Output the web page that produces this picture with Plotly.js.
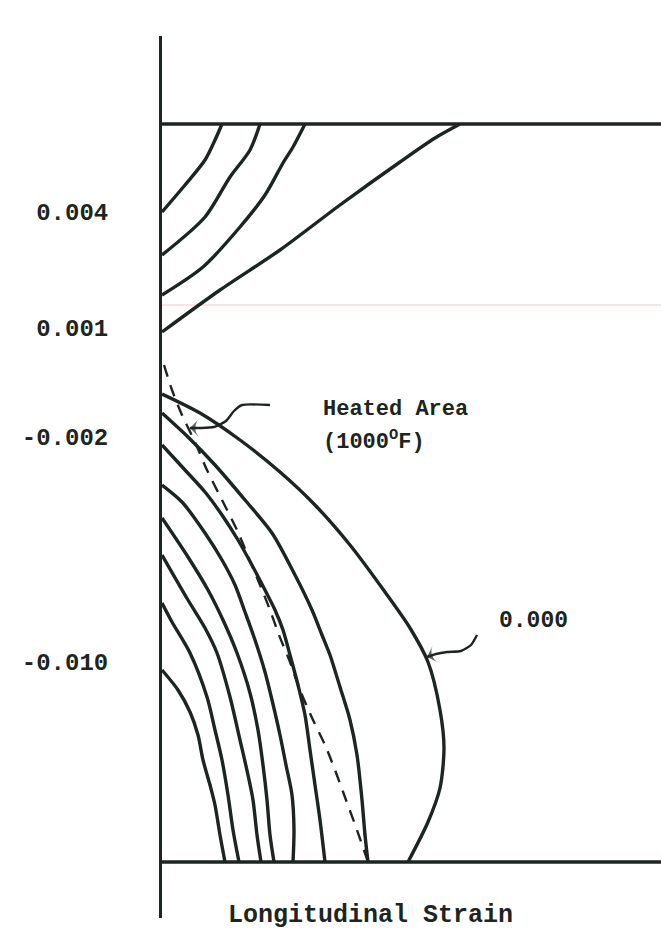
<!DOCTYPE html>
<html>
<head>
<meta charset="utf-8">
<script src="https://cdn.plot.ly/plotly-3.0.1.min.js"></script>
<style>html,body{margin:0;padding:0;background:#fff;}#chart{width:661px;height:937px;}</style>
</head>
<body>
<div id="chart"></div>
<script>
// ---- Data (coordinates in the figure's drawing units) ----
const tickPositions = [212, 328, 437, 662];
const tickLabels = ['0.004', '0.001', '-0.002', '-0.010'];

const boundaryTopY = 124;
const boundaryBottomY = 862;
const boundaryX = [162, 661];

// Upper contour family (tension zone)
const upperA_x = [162, 185, 205, 215, 222];
const upperA_y = [212, 185, 160, 140, 124];
const upperB_x = [162, 205, 230, 250, 260];
const upperB_y = [255, 217, 177, 150, 124];
const upperC_x = [162, 203, 240, 265, 283, 293, 305];
const upperC_y = [295, 267, 227, 195, 163, 147, 124];
const upperD_x = [162, 220, 280, 340, 400, 435, 460];
const upperD_y = [332, 290, 250, 205, 162, 138, 124];

// Lower contour family (compression zone), outer (0.000) to inner
const lower1_x = [162, 200, 240, 280, 315, 350, 385, 410, 428, 440, 444, 440, 428, 408];
const lower1_y = [394, 413, 440, 472, 505, 545, 592, 628, 662, 710, 748, 788, 822, 862];
const lower2_x = [162, 188, 215, 245, 272, 295, 312, 322, 330, 340, 350, 357, 362, 365, 368];
const lower2_y = [413, 437, 465, 500, 533, 575, 610, 635, 655, 687, 720, 755, 800, 835, 862];
const lower3_x = [162, 185, 205, 222, 238, 253, 265, 275, 283, 290, 298, 305, 310, 315, 320, 325];
const lower3_y = [445, 470, 492, 515, 540, 567, 590, 610, 630, 655, 685, 715, 750, 785, 820, 862];
const lower4_x = [162, 182, 205, 222, 235, 245, 255, 265, 272, 280, 286, 292, 294, 293];
const lower4_y = [485, 502, 533, 560, 585, 612, 640, 672, 700, 735, 765, 795, 830, 862];
const lower5_x = [162, 188, 208, 223, 237, 250, 258, 263, 267, 270, 274];
const lower5_y = [518, 557, 590, 620, 653, 693, 730, 765, 800, 835, 862];
const lower6_x = [162, 188, 205, 217, 230, 240, 248, 253, 257, 261];
const lower6_y = [555, 600, 628, 653, 697, 740, 775, 800, 835, 862];
const lower7_x = [162, 172, 190, 207, 215, 222, 228, 233, 239];
const lower7_y = [603, 622, 653, 697, 730, 760, 795, 830, 862];
const lower8_x = [162, 178, 190, 198, 203, 210, 215, 220, 225];
const lower8_y = [670, 690, 712, 735, 760, 785, 805, 835, 862];

// Heated area boundary (dashed)
const heated_x = [164, 172, 182, 195, 207, 222, 237, 248, 260, 270, 279, 290, 300, 313, 325, 335, 346, 357, 368];
const heated_y = [365, 390, 415, 442, 470, 500, 530, 556, 585, 610, 635, 662, 690, 720, 745, 770, 800, 830, 862];

// Leader lines (last point = arrow tip)
const heatedLeader_x = [270, 242, 234, 226, 214, 200, 190];
const heatedLeader_y = [405, 405, 411, 421, 427, 428, 428];
const zeroLeader_x = [477, 471, 461, 447, 436, 427];
const zeroLeader_y = [635, 645, 651, 652, 654, 657];

// Faint scan line
const scanLine_x = [76, 661];
const scanLine_y = [305, 305];

// ---- Drawing ----
const INK = '#1d2521';
const FONT = 'Liberation Mono, "Courier New", monospace';

function line(x, y, opts) {
  opts = opts || {};
  return {
    type: 'scatter', mode: 'lines', x: x, y: y, hoverinfo: 'skip', showlegend: false,
    line: Object.assign({color: INK, width: 3.4, shape: 'spline', smoothing: 0.8}, opts)
  };
}

function leader(x, y) {
  const sizes = x.map((_, i) => i === x.length - 1 ? 13 : 0);
  return {
    type: 'scatter', mode: 'lines+markers', x: x, y: y, hoverinfo: 'skip', showlegend: false,
    line: {color: INK, width: 2.4, shape: 'spline', smoothing: 0.6},
    marker: {symbol: 'arrow-wide', angleref: 'previous', size: sizes, color: INK, line: {width: 0}}
  };
}

const traces = [
  line(scanLine_x, scanLine_y, {color: 'rgba(240,170,180,0.45)', width: 1.5, shape: 'linear'}),
  line(boundaryX, [boundaryTopY, boundaryTopY], {shape: 'linear'}),
  line(boundaryX, [boundaryBottomY, boundaryBottomY], {shape: 'linear'}),
  line(upperA_x, upperA_y), line(upperB_x, upperB_y), line(upperC_x, upperC_y), line(upperD_x, upperD_y),
  line(lower1_x, lower1_y), line(lower2_x, lower2_y), line(lower3_x, lower3_y), line(lower4_x, lower4_y),
  line(lower5_x, lower5_y), line(lower6_x, lower6_y), line(lower7_x, lower7_y), line(lower8_x, lower8_y),
  line(heated_x, heated_y, {width: 2.4, dash: '12px,9px'}),
  leader(heatedLeader_x, heatedLeader_y),
  leader(zeroLeader_x, zeroLeader_y)
];

const txtFont = {family: FONT, size: 22, color: INK, weight: 'bold'};

const annotations = [
  {x: 321, y: 409, xref: 'x', yref: 'y', text: 'Heated Area', showarrow: false, xanchor: 'left', yanchor: 'middle', font: txtFont},
  {x: 321, y: 440, xref: 'x', yref: 'y', text: '(1000<sup>O</sup>F)', showarrow: false, xanchor: 'left', yanchor: 'middle', font: txtFont},
  {x: 497, y: 621, xref: 'x', yref: 'y', text: '0.000', showarrow: false, xanchor: 'left', yanchor: 'middle',
   font: {family: FONT, size: 23, color: INK, weight: 'bold'}},
  {x: 370, y: 915, xref: 'x', yref: 'y', text: 'Longitudinal Strain', showarrow: false, xanchor: 'center', yanchor: 'middle',
   font: {family: FONT, size: 25, color: INK, weight: 'bold'}}
];

const layout = {
  width: 661, height: 937,
  margin: {l: 162, r: 0, t: 36, b: 19, pad: 0},
  paper_bgcolor: '#ffffff', plot_bgcolor: '#ffffff',
  showlegend: false,
  xaxis: {range: [162, 661], visible: false, fixedrange: true},
  yaxis: {
    range: [918, 36], showgrid: false, zeroline: false, showline: true, linewidth: 3, linecolor: INK,
    ticks: '', tickmode: 'array', tickvals: tickPositions, ticktext: tickLabels,
    tickfont: {family: FONT, size: 24, color: INK, weight: 'bold'}, ticklabelstandoff: 46, fixedrange: true
  },
  annotations: annotations
};

Plotly.newPlot('chart', traces, layout, {staticPlot: true, displayModeBar: false});
</script>
</body>
</html>
